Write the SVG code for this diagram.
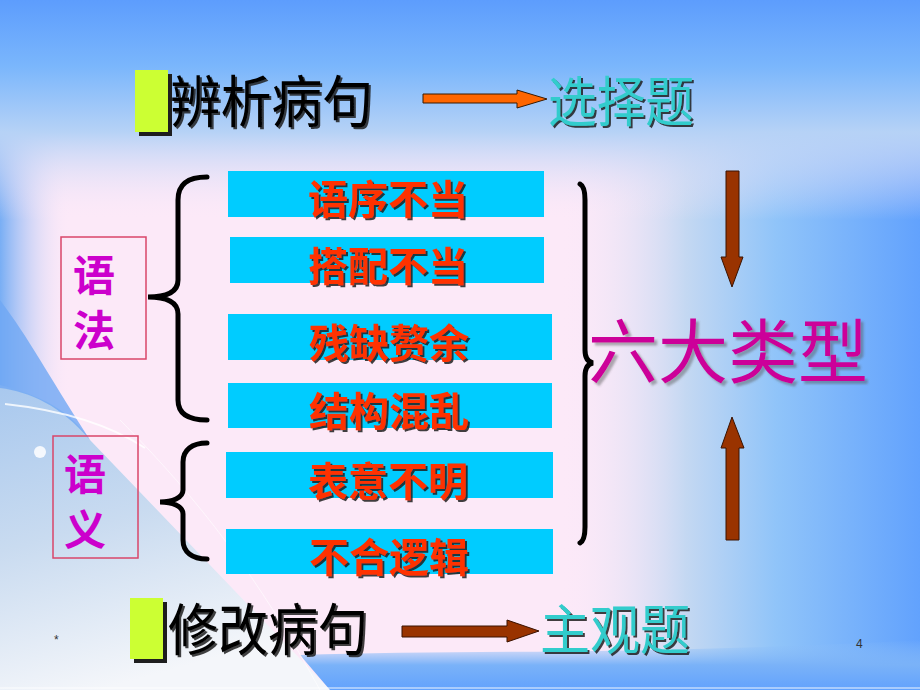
<svg xmlns="http://www.w3.org/2000/svg" width="920" height="690" viewBox="0 0 920 690">
<style>
.cjk{font-family:"Noto Sans CJK SC","Noto Sans CJK TC",sans-serif}
.title{font-size:56px;fill:#000;filter:url(#sd)}
.teal{font-size:54px;fill:#33cccc;filter:url(#sd)}
.box{fill:#00ccff}
.btxt{font-size:40px;font-weight:bold;fill:#ff3300;text-anchor:middle;filter:url(#sd)}
.side{font-size:42px;font-weight:bold;fill:#cc00cc;text-anchor:middle}
.sbox{fill:none;stroke:#d9466a;stroke-width:1.5}
.brace{fill:none;stroke:#000;stroke-width:5;stroke-linecap:round}
.arr{fill:#993300;stroke:#3a1200;stroke-width:1}
.green{fill:#ccff33}
.gsh{fill:#1e1e1e}
.small{font-family:"Liberation Sans",sans-serif;font-size:12px;fill:#333}
</style>
<defs>
<filter id="sd" x="-10%" y="-10%" width="130%" height="130%">
<feDropShadow dx="2" dy="2" stdDeviation="0.6" flood-color="#1a1a1a" flood-opacity="0.85"/>
</filter>
<filter id="sd2" x="-10%" y="-10%" width="130%" height="130%">
<feDropShadow dx="3" dy="3" stdDeviation="1" flood-color="#555" flood-opacity="0.45"/>
</filter>
<linearGradient id="gTop" x1="0" y1="0" x2="0" y2="1">
<stop offset="0" stop-color="#5d9dfd"/>
<stop offset="0.3" stop-color="#7ab6fc"/>
<stop offset="0.6" stop-color="#b6d2f6"/>
<stop offset="1" stop-color="#fce9f8" stop-opacity="0"/>
</linearGradient>
<linearGradient id="gRight" x1="0" y1="0" x2="1" y2="0">
<stop offset="0" stop-color="#fce9f8" stop-opacity="0"/>
<stop offset="0.35" stop-color="#c4d8f2"/>
<stop offset="0.6" stop-color="#90c4f9"/>
<stop offset="1" stop-color="#62a2fd"/>
</linearGradient>
<linearGradient id="gLeft" x1="0" y1="0" x2="1" y2="0">
<stop offset="0" stop-color="#78aef4"/>
<stop offset="1" stop-color="#fce9f8" stop-opacity="0"/>
</linearGradient>
<linearGradient id="gWedge" x1="0" y1="0" x2="0.3" y2="1">
<stop offset="0" stop-color="#a8c8ee"/>
<stop offset="0.5" stop-color="#c9dbf0"/>
<stop offset="1" stop-color="#f4f6fa"/>
</linearGradient>
<linearGradient id="gBottom" x1="0" y1="0" x2="0" y2="1">
<stop offset="0" stop-color="#8fc0f8" stop-opacity="0"/>
<stop offset="0.5" stop-color="#7ab2f8"/>
<stop offset="1" stop-color="#62a2fd"/>
</linearGradient>
</defs>

<g id="background">
<rect x="0" y="0" width="920" height="690" fill="#fce9f8"/>
<rect x="0" y="0" width="70" height="460" fill="url(#gLeft)"/>
<rect x="560" y="0" width="360" height="690" fill="url(#gRight)"/>
<rect x="0" y="0" width="920" height="220" fill="url(#gTop)"/>
<path d="M0,385 C40,395 70,410 90,440 L330,690 L0,690 Z" fill="url(#gWedge)"/>
<path d="M0,300 C30,340 45,370 90,440 C60,405 30,392 0,388 Z" fill="#6fa8f4" opacity="0.8"/>
<path d="M300,655 C450,650 650,655 920,640 L920,690 L330,690 Z" fill="url(#gBottom)"/>
<path d="M5,404 C60,410 110,425 145,448" fill="none" stroke="#ffffff" stroke-width="2" opacity="0.8"/>
<path d="M120,420 C200,500 260,580 320,690" fill="none" stroke="#ffffff" stroke-width="1" opacity="0.6"/>
<circle cx="40" cy="452" r="6" fill="#ffffff" opacity="0.85"/>
<line x1="0" y1="688" x2="920" y2="688" stroke="#ffffff" stroke-width="1.5" opacity="0.6"/>
</g>

<g id="title-top">
<rect class="gsh" x="139" y="74" width="33" height="62"/>
<rect class="green" x="135" y="70" width="33" height="62"/>
<text class="cjk title" x="170" y="122" textLength="203" lengthAdjust="spacingAndGlyphs">辨析病句</text>
</g>
<g id="answer-top">
<text class="cjk teal" x="548" y="122" textLength="146" lengthAdjust="spacingAndGlyphs">选择题</text>
</g>

<g id="title-bottom">
<rect class="gsh" x="134" y="602" width="33" height="61"/>
<rect class="green" x="130" y="598" width="33" height="61"/>
<text class="cjk title" x="168" y="650" textLength="200" lengthAdjust="spacingAndGlyphs">修改病句</text>
</g>
<g id="answer-bottom">
<text class="cjk teal" x="540" y="650" textLength="150" lengthAdjust="spacingAndGlyphs">主观题</text>
</g>

<g id="grammar">
<rect class="sbox" x="61" y="237" width="85" height="122"/>
<text class="cjk side" x="94" y="291">语</text>
<text class="cjk side" x="94" y="346">法</text>
</g>
<g id="semantics">
<rect class="sbox" x="53" y="436" width="85" height="122"/>
<text class="cjk side" x="85" y="490">语</text>
<text class="cjk side" x="85" y="545">义</text>
</g>

<g id="t1"><rect class="box" x="228" y="171" width="316" height="46"/><text class="cjk btxt" x="388" y="214">语序不当</text></g>
<g id="t2"><rect class="box" x="230" y="237" width="314" height="46"/><text class="cjk btxt" x="388" y="281">搭配不当</text></g>
<g id="t3"><rect class="box" x="228" y="314" width="324" height="46"/><text class="cjk btxt" x="389" y="358">残缺赘余</text></g>
<g id="t4"><rect class="box" x="228" y="383" width="324" height="45"/><text class="cjk btxt" x="389" y="426">结构混乱</text></g>
<g id="t5"><rect class="box" x="226" y="452" width="327" height="46"/><text class="cjk btxt" x="388" y="496">表意不明</text></g>
<g id="t6"><rect class="box" x="226" y="529" width="327" height="45"/><text class="cjk btxt" x="389" y="572">不合逻辑</text></g>

<g id="six-types">
<text class="cjk" x="728" y="378" font-size="70" fill="#cc0099" text-anchor="middle" filter="url(#sd2)">六大类型</text>
</g>

<g id="connectors">
<path class="brace" d="M207,177 C188,177 178,184 178,200 L178,280 C178,292 166,297 148,297 C166,297 178,302 178,314 L178,400 C178,414 188,420 207,420"/>
<path class="brace" d="M207,443 C192,443 183,450 183,462 L183,490 C183,498 172,502 160,502 C172,502 183,506 183,514 L183,540 C183,552 192,559 207,559"/>
<path class="brace" stroke-width="4" d="M580,184 C584,186 585,192 585,200 L585,350 C585,358 588,362 593,363 C588,364 585,368 585,376 L585,527 C585,535 584,541 580,543"/>
<polygon points="423,94 517,94 517,90 547,99 517,108 517,103 423,103" fill="#ff6600" stroke="#3a1a00" stroke-width="1"/>
<polygon class="arr" points="402,626 507,626 507,620 539,631 507,642 507,637 402,637"/>
<polygon class="arr" points="726,171 739,171 739,257 743,257 732,287 721,257 726,257"/>
<polygon class="arr" points="732,417 744,448 739,448 739,540 726,540 726,448 721,448"/>
</g>

<text class="small" x="54" y="644">*</text>
<text class="small" x="856" y="648">4</text>
</svg>
